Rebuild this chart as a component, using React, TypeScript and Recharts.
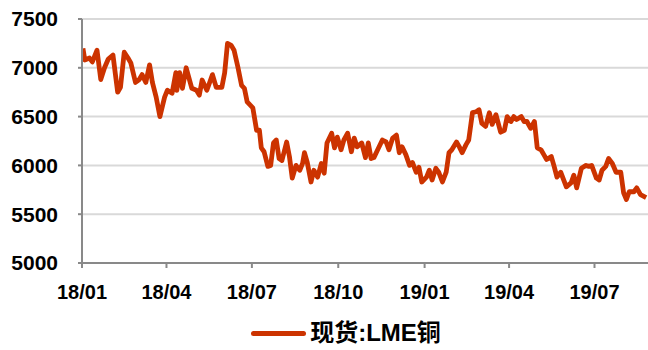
import { LineChart, Line, XAxis, YAxis, CartesianGrid, Legend } from "recharts"

const dates = [
  "2018-01-02", "2018-01-04", "2018-01-09", "2018-01-12", "2018-01-17", "2018-01-21", "2018-01-25", "2018-01-29",
  "2018-02-03", "2018-02-08", "2018-02-11", "2018-02-15", "2018-02-19", "2018-02-22", "2018-02-27",
  "2018-03-03", "2018-03-06", "2018-03-10", "2018-03-14", "2018-03-17", "2018-03-21", "2018-03-25", "2018-03-30",
  "2018-04-02", "2018-04-07", "2018-04-11", "2018-04-12", "2018-04-15", "2018-04-18", "2018-04-22", "2018-04-28",
  "2018-05-03", "2018-05-06", "2018-05-09", "2018-05-14", "2018-05-17", "2018-05-20", "2018-05-24", "2018-05-30",
  "2018-06-02", "2018-06-05", "2018-06-09", "2018-06-12", "2018-06-16", "2018-06-20", "2018-06-23", "2018-06-26",
  "2018-07-02", "2018-07-06", "2018-07-09", "2018-07-11", "2018-07-14", "2018-07-18", "2018-07-21", "2018-07-24",
  "2018-07-27", "2018-07-30", "2018-08-02", "2018-08-07", "2018-08-10", "2018-08-13", "2018-08-17", "2018-08-21",
  "2018-08-24", "2018-08-26", "2018-08-29", "2018-09-02", "2018-09-05", "2018-09-09", "2018-09-13", "2018-09-16",
  "2018-09-19", "2018-09-24", "2018-09-27", "2018-09-30", "2018-10-04", "2018-10-07", "2018-10-11", "2018-10-15",
  "2018-10-18", "2018-10-21", "2018-10-26", "2018-10-30", "2018-11-02", "2018-11-05", "2018-11-08", "2018-11-12",
  "2018-11-17", "2018-11-21", "2018-11-24", "2018-11-28", "2018-12-02", "2018-12-05", "2018-12-08", "2018-12-12",
  "2018-12-16", "2018-12-19", "2018-12-23", "2018-12-26", "2018-12-29", "2019-01-03", "2019-01-06", "2019-01-09",
  "2019-01-13", "2019-01-16", "2019-01-20", "2019-01-24", "2019-01-27", "2019-01-30", "2019-02-04", "2019-02-07",
  "2019-02-10", "2019-02-14", "2019-02-17", "2019-02-21", "2019-02-25", "2019-02-28", "2019-03-03", "2019-03-07",
  "2019-03-11", "2019-03-14", "2019-03-18", "2019-03-23", "2019-03-27", "2019-03-30", "2019-04-03", "2019-04-06",
  "2019-04-09", "2019-04-14", "2019-04-17", "2019-04-20", "2019-04-24", "2019-04-28", "2019-05-01", "2019-05-05",
  "2019-05-08", "2019-05-11", "2019-05-16", "2019-05-19", "2019-05-22", "2019-05-26", "2019-06-01", "2019-06-06",
  "2019-06-09", "2019-06-12", "2019-06-17", "2019-06-22", "2019-06-25", "2019-06-28", "2019-07-03", "2019-07-06",
  "2019-07-09", "2019-07-13", "2019-07-16", "2019-07-20", "2019-07-24", "2019-07-29", "2019-08-01", "2019-08-04",
  "2019-08-07", "2019-08-12", "2019-08-15", "2019-08-19", "2019-08-25",
]

const lmeCopper = [
  7200, 7080, 7100, 7060, 7180, 6880, 7000, 7090,
  7130, 6750, 6800, 7160, 7100, 7050, 6850,
  6880, 6930, 6850, 7030, 6850, 6700, 6500, 6700,
  6770, 6740, 6950, 6770, 6950, 6790, 7000, 6790,
  6770, 6720, 6875, 6770, 6850, 6930, 6800, 6800,
  6950, 7250, 7230, 7180, 7010, 6820, 6790, 6650,
  6590, 6360, 6360, 6180, 6140, 5990, 6000, 6230,
  6260, 6070, 6050, 6240, 6090, 5870, 6000, 5950,
  6020, 6130, 6030, 5830, 5950, 5880, 6020, 5920,
  6230, 6330, 6180, 6290, 6160, 6260, 6330, 6140,
  6280, 6190, 6230, 6080, 6230, 6070, 6080, 6160,
  6260, 6240, 6160, 6280, 6310, 6130, 6190, 6110,
  6000, 6030, 5930, 5980, 5830, 5880, 5950, 5850,
  5970, 5930, 5830, 5930, 6130, 6160, 6240, 6190,
  6130, 6210, 6260, 6540, 6550, 6570, 6430, 6400,
  6540, 6420, 6520, 6340, 6360, 6500, 6450, 6500,
  6470, 6500, 6450, 6450, 6380, 6450, 6180, 6160,
  6110, 6060, 6090, 5990, 5880, 5930, 5780, 5820,
  5900, 5770, 5970, 6000, 5990, 6000, 5870, 5850,
  5950, 5990, 6070, 6020, 5930, 5930, 5720, 5650,
  5730, 5730, 5770, 5700, 5670,
]

const xTicks = ["2018-01-01", "2018-04-01", "2018-07-01", "2018-10-01", "2019-01-01", "2019-04-01", "2019-07-01"]
const yTicks = [5000, 5500, 6000, 6500, 7000, 7500]
const seriesName = "现货:LME铜"

const data = dates.map((d, i) => ({ t: Date.parse(d), v: lmeCopper[i] }))

const FONT = '"Liberation Sans", Arial, "Noto Sans CJK SC", sans-serif'
const RED = "#cc3300"

const fmtDate = (t: number) => {
  const d = new Date(t)
  const yy = String(d.getUTCFullYear() % 100).padStart(2, "0")
  const mm = String(d.getUTCMonth() + 1).padStart(2, "0")
  return `${yy}/${mm}`
}

function LegendBox() {
  return (
    <div style={{ display: "flex", justifyContent: "center", alignItems: "center", fontFamily: FONT, height: 24, marginLeft: 44 }}>
      <div style={{ width: 55, height: 5, borderRadius: 3, background: RED, marginRight: 4 }} />
      <span style={{ fontSize: 24, fontWeight: "bold", color: "#000", lineHeight: "24px" }}>{seriesName}</span>
    </div>
  )
}

export default function App() {
  return (
    <div style={{ position: "absolute", left: 0, top: 0, width: 648, height: 350, background: "#fff" }}>
      <LineChart width={648} height={350} data={data} margin={{ top: 19, right: 0, left: 0, bottom: 18 }}>
        <CartesianGrid vertical={false} stroke="#d9d9d9" strokeWidth={2} />
        <XAxis
          dataKey="t"
          type="number"
          scale="time"
          domain={[Date.parse("2018-01-01"), Date.parse("2019-08-27")]}
          ticks={xTicks.map((d) => Date.parse(d))}
          tickFormatter={fmtDate}
          stroke="#898989"
          strokeWidth={2}
          tickSize={5}
          tickMargin={17}
          height={45}
          tick={{ fill: "#000", fontSize: 20, fontWeight: "bold", fontFamily: FONT }}
          allowDataOverflow
        />
        <YAxis
          domain={[5000, 7500]}
          ticks={yTicks}
          width={82}
          stroke="#898989"
          strokeWidth={2}
          tickSize={4}
          tickMargin={20}
          tick={{ fill: "#000", fontSize: 21, fontWeight: "bold", fontFamily: FONT }}
          allowDataOverflow
        />
        <Legend verticalAlign="bottom" wrapperStyle={{ bottom: 5 }} content={() => <LegendBox />} />
        <Line
          dataKey="v"
          name={seriesName}
          stroke={RED}
          strokeWidth={4.8}
          dot={false}
          type="linear"
          strokeLinejoin="round"
          isAnimationActive={false}
        />
      </LineChart>
    </div>
  )
}
